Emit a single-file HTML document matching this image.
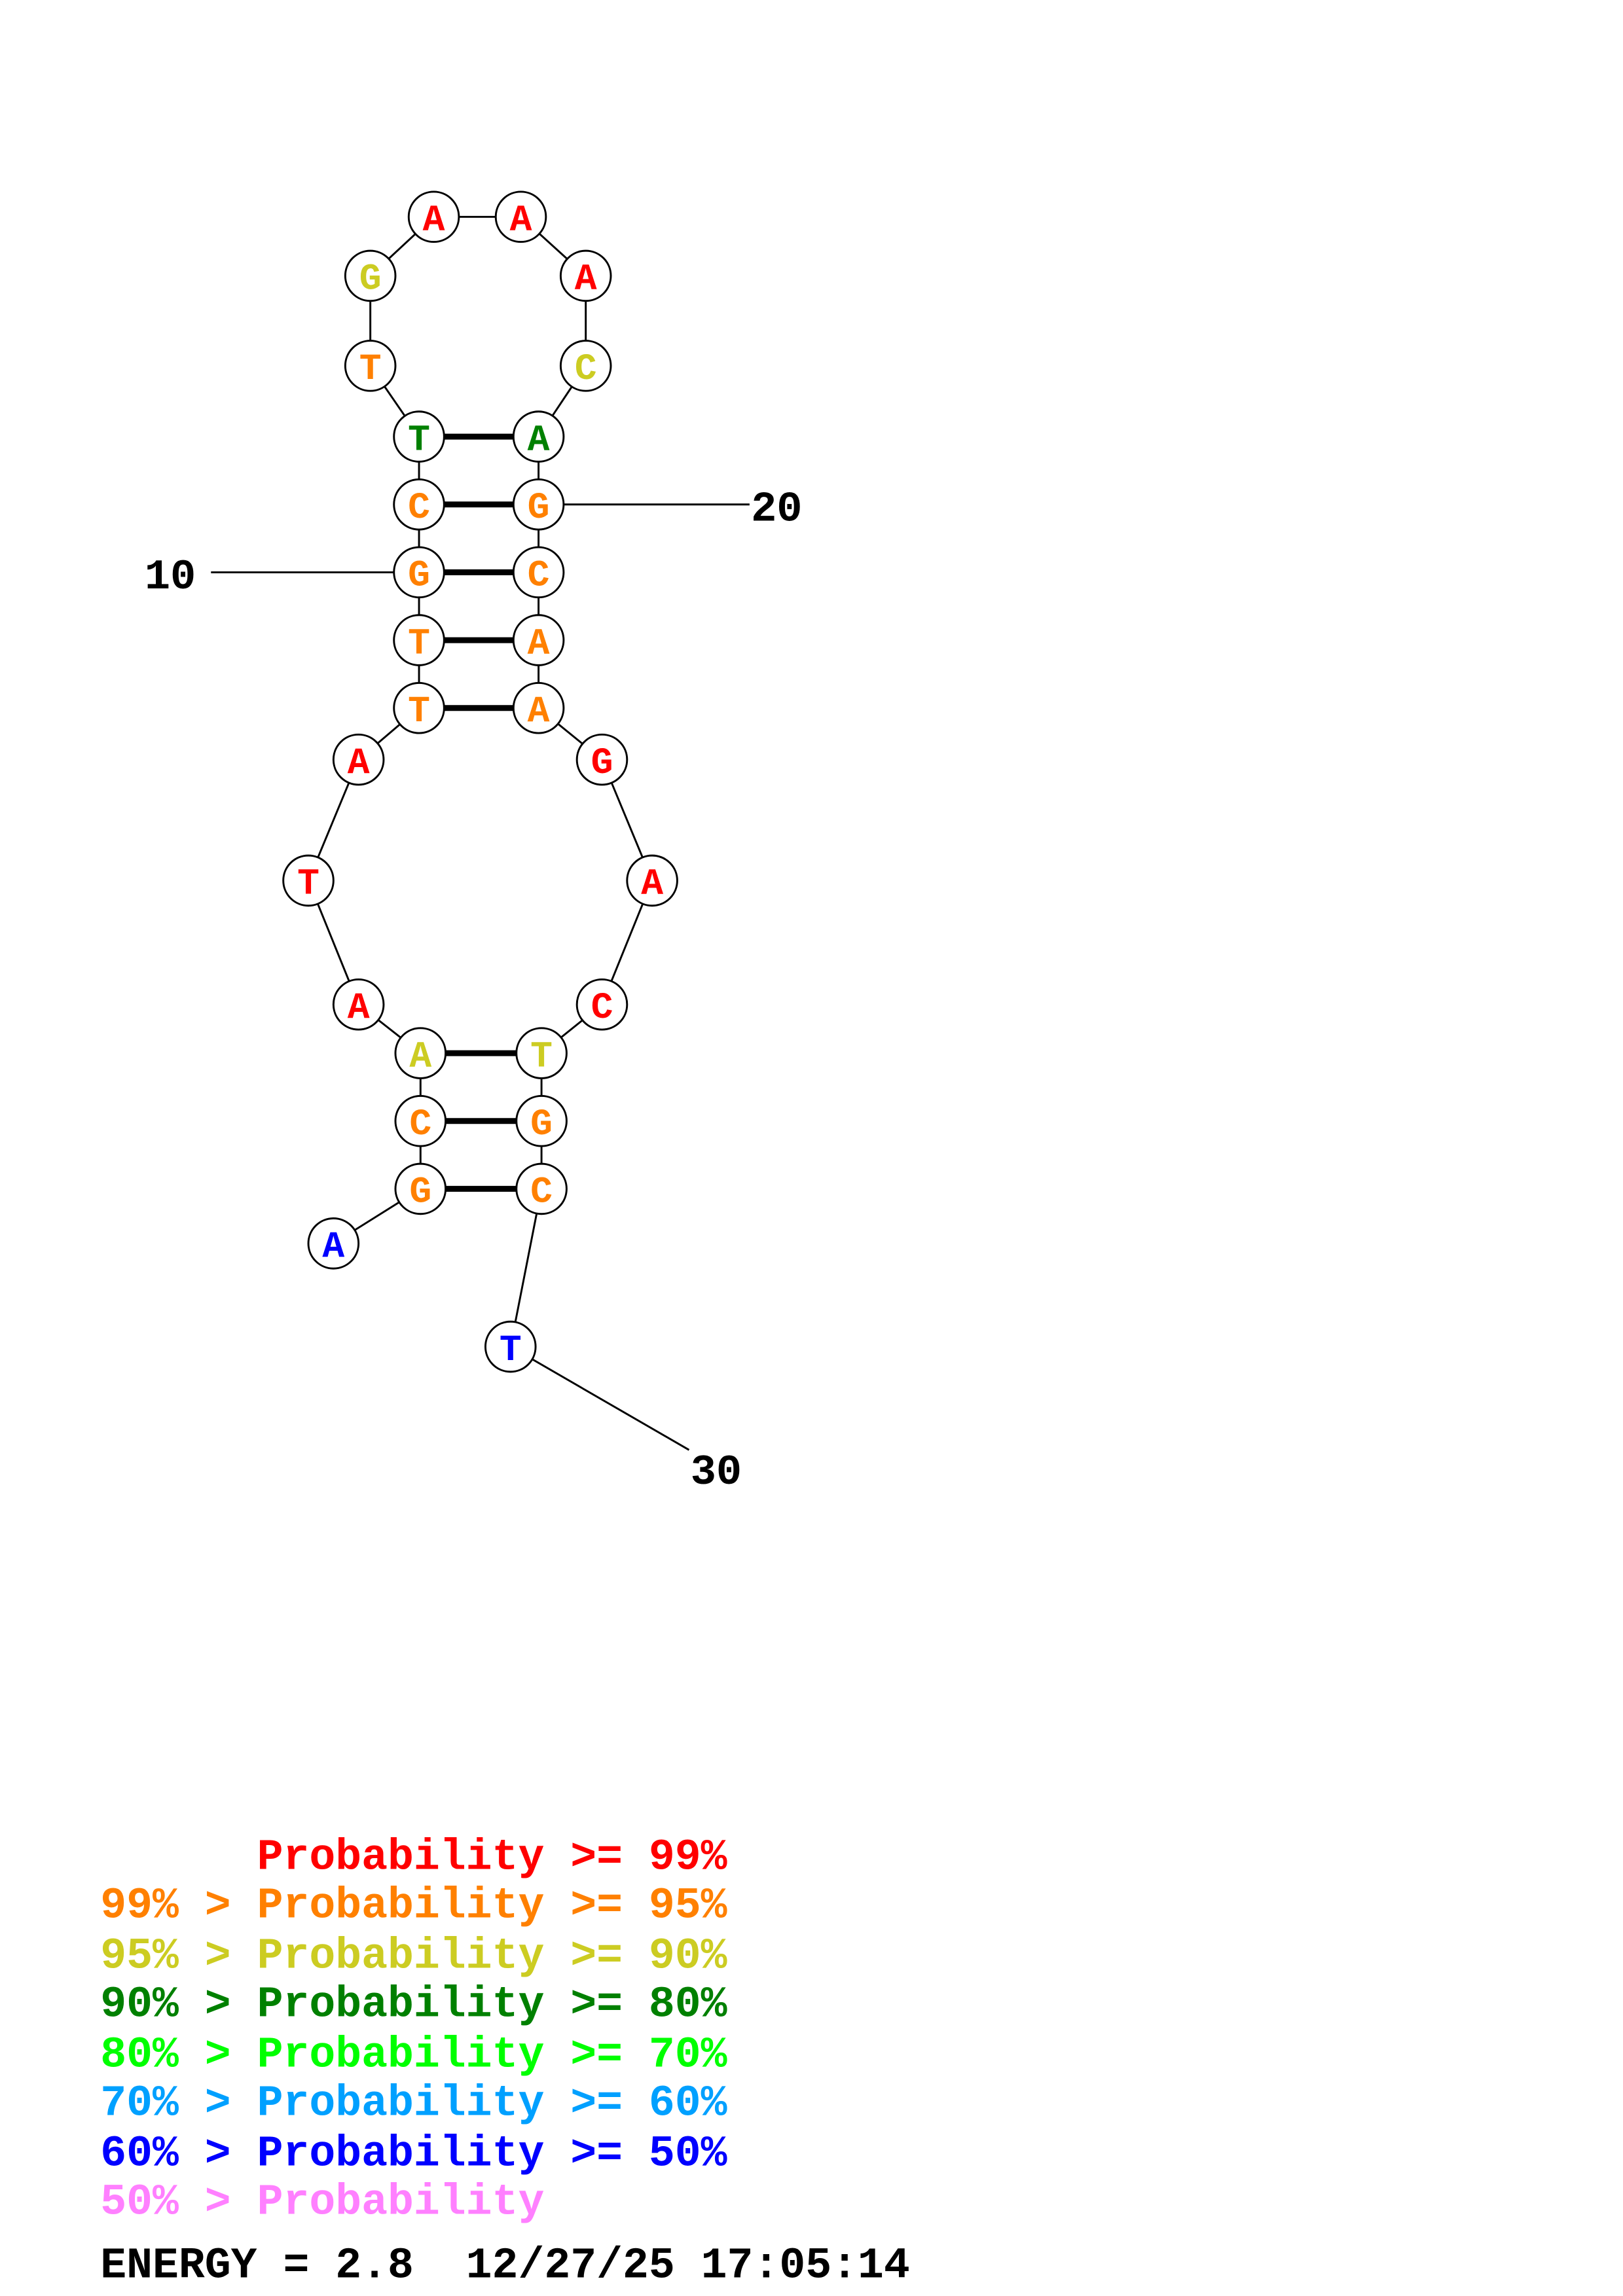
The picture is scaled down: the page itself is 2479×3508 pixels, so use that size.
<!DOCTYPE html>
<html><head><meta charset="utf-8"><style>
html,body{margin:0;padding:0;background:#fff;}
svg{display:block;}
text{font-family:"Liberation Mono",monospace;font-weight:bold;}
.pre text{white-space:pre;}
</style></head><body>
<svg width="2479" height="3508" viewBox="0 0 1100 1556.6" xmlns="http://www.w3.org/2000/svg">
<g stroke="#000" stroke-width="1.3" fill="none">
<polyline points="226,843 285,806 285,760 285,714 243,681 209,597 243,515 284,480 284,434 284,388 284,342 284,296 251,248 251,187 294,147 353,147 397,187 397,248 365,296 365,342 365,388 365,434 365,480 408,515 442,597 408,681 367,714 367,760 367,806 346,913 467,983"/>
<line x1="143" y1="388" x2="284" y2="388"/>
<line x1="365" y1="342" x2="508" y2="342"/>
</g>
<g stroke="#000" stroke-width="4">
<line x1="284" y1="296" x2="365" y2="296"/>
<line x1="284" y1="342" x2="365" y2="342"/>
<line x1="284" y1="388" x2="365" y2="388"/>
<line x1="284" y1="434" x2="365" y2="434"/>
<line x1="284" y1="480" x2="365" y2="480"/>
<line x1="285" y1="714" x2="367" y2="714"/>
<line x1="285" y1="760" x2="367" y2="760"/>
<line x1="285" y1="806" x2="367" y2="806"/>
</g>
<g stroke="#000" stroke-width="1.3" fill="#fff">
<circle cx="226" cy="843" r="17"/><circle cx="285" cy="806" r="17"/><circle cx="285" cy="760" r="17"/><circle cx="285" cy="714" r="17"/>
<circle cx="243" cy="681" r="17"/><circle cx="209" cy="597" r="17"/><circle cx="243" cy="515" r="17"/><circle cx="284" cy="480" r="17"/>
<circle cx="284" cy="434" r="17"/><circle cx="284" cy="388" r="17"/><circle cx="284" cy="342" r="17"/><circle cx="284" cy="296" r="17"/>
<circle cx="251" cy="248" r="17"/><circle cx="251" cy="187" r="17"/><circle cx="294" cy="147" r="17"/><circle cx="353" cy="147" r="17"/>
<circle cx="397" cy="187" r="17"/><circle cx="397" cy="248" r="17"/><circle cx="365" cy="296" r="17"/><circle cx="365" cy="342" r="17"/>
<circle cx="365" cy="388" r="17"/><circle cx="365" cy="434" r="17"/><circle cx="365" cy="480" r="17"/><circle cx="408" cy="515" r="17"/>
<circle cx="442" cy="597" r="17"/><circle cx="408" cy="681" r="17"/><circle cx="367" cy="714" r="17"/><circle cx="367" cy="760" r="17"/>
<circle cx="367" cy="806" r="17"/><circle cx="346" cy="913" r="17"/>
</g>
<g font-size="25" text-anchor="middle">
<text x="226" y="852" fill="#0000ff">A</text>
<text x="285" y="815" fill="#ff8000">G</text>
<text x="285" y="769" fill="#ff8000">C</text>
<text x="285" y="723" fill="#cccc22">A</text>
<text x="243" y="690" fill="#ff0000">A</text>
<text x="209" y="606" fill="#ff0000">T</text>
<text x="243" y="524" fill="#ff0000">A</text>
<text x="284" y="489" fill="#ff8000">T</text>
<text x="284" y="443" fill="#ff8000">T</text>
<text x="284" y="397" fill="#ff8000">G</text>
<text x="284" y="351" fill="#ff8000">C</text>
<text x="284" y="305" fill="#008000">T</text>
<text x="251" y="257" fill="#ff8000">T</text>
<text x="251" y="196" fill="#cccc22">G</text>
<text x="294" y="156" fill="#ff0000">A</text>
<text x="353" y="156" fill="#ff0000">A</text>
<text x="397" y="196" fill="#ff0000">A</text>
<text x="397" y="257" fill="#cccc22">C</text>
<text x="365" y="305" fill="#008000">A</text>
<text x="365" y="351" fill="#ff8000">G</text>
<text x="365" y="397" fill="#ff8000">C</text>
<text x="365" y="443" fill="#ff8000">A</text>
<text x="365" y="489" fill="#ff8000">A</text>
<text x="408" y="524" fill="#ff0000">G</text>
<text x="442" y="606" fill="#ff0000">A</text>
<text x="408" y="690" fill="#ff0000">C</text>
<text x="367" y="723" fill="#cccc22">T</text>
<text x="367" y="769" fill="#ff8000">G</text>
<text x="367" y="815" fill="#ff8000">C</text>
<text x="346" y="922" fill="#0000ff">T</text>
</g>
<g font-size="29" fill="#000">
<text x="98" y="399">10</text>
<text x="509" y="353">20</text>
<text x="468" y="1006">30</text>
</g>
<g font-size="29.5" class="pre">
<text x="68" y="1267" fill="#ff0000" style="white-space:pre">      Probability &gt;= 99%</text>
<text x="68" y="1300" fill="#ff8000" style="white-space:pre">99% &gt; Probability &gt;= 95%</text>
<text x="68" y="1334" fill="#cccc22" style="white-space:pre">95% &gt; Probability &gt;= 90%</text>
<text x="68" y="1367" fill="#008000" style="white-space:pre">90% &gt; Probability &gt;= 80%</text>
<text x="68" y="1401" fill="#00ff00" style="white-space:pre">80% &gt; Probability &gt;= 70%</text>
<text x="68" y="1434" fill="#00a0ff" style="white-space:pre">70% &gt; Probability &gt;= 60%</text>
<text x="68" y="1468" fill="#0000ff" style="white-space:pre">60% &gt; Probability &gt;= 50%</text>
<text x="68" y="1501" fill="#ff80ff" style="white-space:pre">50% &gt; Probability</text>
<text x="68" y="1544" fill="#000" style="white-space:pre">ENERGY = 2.8  12/27/25 17:05:14</text>
</g>
</svg>
</body></html>
